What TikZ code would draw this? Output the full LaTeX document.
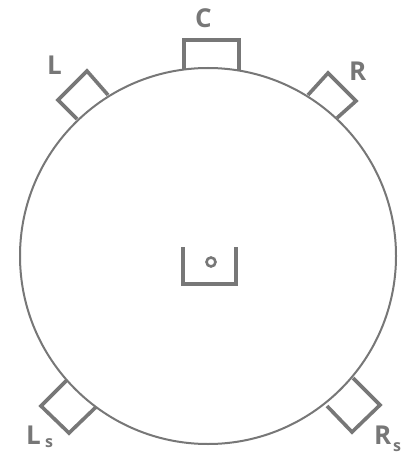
\documentclass[tikz,border=0pt]{standalone}
\usepackage{fontspec}
\setmainfont{Open Sans}
\definecolor{ink}{HTML}{777777}
\tikzset{
  room/.style={draw=ink,line width=2pt},
  spk/.style={draw=ink,line width=3.6pt,line join=miter,line cap=butt},
  lab/.style={text=ink,font=\bfseries\fontsize{26}{26}\selectfont,inner sep=0pt,anchor=base west},
  sub/.style={text=ink,font=\bfseries\fontsize{16}{16}\selectfont,inner sep=0pt,anchor=base west}
}
\begin{document}
\begin{tikzpicture}[x=1pt,y=-1pt]
\useasboundingbox[fill=white] (0,0) rectangle (409,454);
\draw[room] (208,256) circle[radius=188];
\draw[spk] (184,70) -- (184,40) -- (239,40) -- (239,70);
\draw[spk] (108,95) -- (87,71) -- (58,100) -- (77,119);
\draw[spk] (308,95) -- (328,73) -- (356,101) -- (337,118);
\draw[spk] (67,380) -- (41,406) -- (69,433) -- (96,407);
\draw[spk] (353,378) -- (380,405) -- (352,432) -- (327,406);
\draw[spk] (183,247) -- (183,284) -- (236,284) -- (236,247);
\draw[draw=ink,line width=2.6pt] (211,262) circle[radius=4.5];
\node[lab] (c) at (195,28) {C};
\node[lab] (l) at (47,75) {L};
\node[lab] (r) at (349,81) {R};
\node[lab] (ls) at (26,444) {L};
\node[sub] (lss) at (45,447) {s};
\node[lab] (rs) at (374,444) {R};
\node[sub] (rss) at (393,451) {s};
\end{tikzpicture}
\end{document}
